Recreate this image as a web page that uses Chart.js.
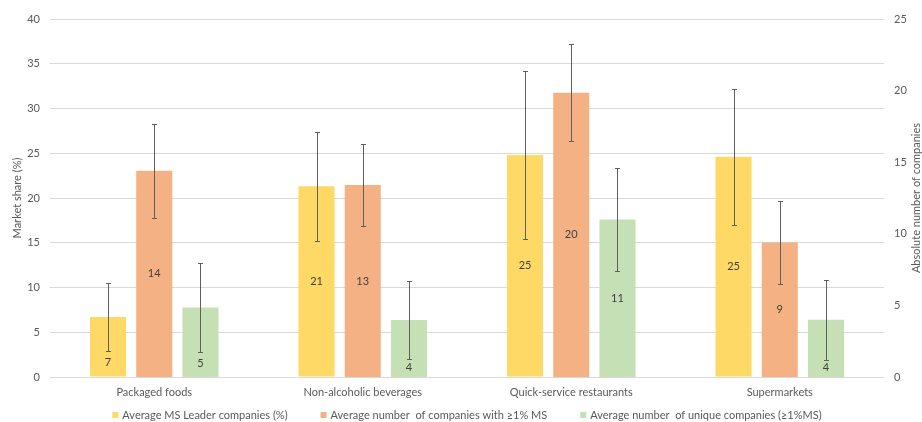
<!DOCTYPE html>
<html>
<head>
<meta charset="utf-8">
<script src="https://cdn.jsdelivr.net/npm/chart.js@4.4.1/dist/chart.umd.min.js"></script>
<style>
  html, body { margin: 0; padding: 0; background: #ffffff; }
  #wrap { width: 922px; height: 422px; }
</style>
</head>
<body>
<div id="wrap"><canvas id="c" width="922" height="422"></canvas></div>
<script>
// ---- data ----
const categories = ['Packaged foods', 'Non-alcoholic beverages', 'Quick-service restaurants', 'Supermarkets'];
const seriesNames = ['Average MS Leader companies (%)', 'Average number  of companies with \u22651% MS', 'Average number  of unique companies (\u22651%MS)'];
const leaderShare = [6.7, 21.3, 24.8, 24.6];        // left axis (%)
const leaderErr = [3.8, 6.1, 9.35, 7.6];
const companiesMS = [14.4, 13.4, 19.85, 9.4];        // right axis (count)
const companiesErr = [3.3, 2.86, 3.4, 2.9];
const uniqueCompanies = [4.86, 3.98, 11.0, 4.0];     // right axis (count)
const uniqueErr = [3.1, 2.72, 3.6, 2.78];
const leftTicks = [0, 5, 10, 15, 20, 25, 30, 35, 40];
const rightTicks = [0, 5, 10, 15, 20, 25];
const leftTitle = 'Market share (%)';
const rightTitle = 'Absolute number of companies';

const FONT = 'Lato, "Open Sans", sans-serif';
const TXT = '#595959';
const colors = ['#FFD966', '#F4B183', '#C5E0B4'];

const errorBars = {
  id: 'errorBars',
  afterDatasetsDraw(chart) {
    const ctx = chart.ctx;
    ctx.save();
    ctx.strokeStyle = '#5f5f5f';
    ctx.lineWidth = 1;
    chart.data.datasets.forEach((ds, di) => {
      const meta = chart.getDatasetMeta(di);
      const ys = chart.scales[ds.yAxisID];
      meta.data.forEach((bar, i) => {
        const v = ds.data[i], e = ds.errors[i];
        const x = Math.round(bar.x) + 0.5;
        const yt = Math.round(ys.getPixelForValue(v + e)) + 0.5;
        const yb = Math.round(ys.getPixelForValue(Math.max(0, v - e))) + 0.5;
        ctx.beginPath();
        ctx.moveTo(x, yt); ctx.lineTo(x, yb);
        ctx.moveTo(x - 2.5, yt); ctx.lineTo(x + 2.5, yt);
        ctx.moveTo(x - 2.5, yb); ctx.lineTo(x + 2.5, yb);
        ctx.stroke();
      });
    });
    ctx.restore();
  }
};

const dataLabels = {
  id: 'dataLabels',
  afterDatasetsDraw(chart) {
    const ctx = chart.ctx;
    ctx.save();
    ctx.font = '11px ' + FONT;
    ctx.fillStyle = '#404040';
    ctx.textAlign = 'center';
    ctx.textBaseline = 'middle';
    chart.data.datasets.forEach((ds, di) => {
      const meta = chart.getDatasetMeta(di);
      const ys = chart.scales[ds.yAxisID];
      meta.data.forEach((bar, i) => {
        const v = ds.data[i], e = ds.errors[i];
        const mid = (bar.y + bar.base) / 2;
        const errLow = ys.getPixelForValue(Math.max(0, v - e));
        let y = mid;
        if (errLow > mid - 6) y = (errLow + bar.base) / 2 - 1;
        ctx.fillText(String(Math.round(v)), bar.x, y);
      });
    });
    ctx.restore();
  }
};

const extras = {
  id: 'extras',
  afterDraw(chart) {
    const ctx = chart.ctx;
    const area = chart.chartArea;
    ctx.save();
    // right axis title (reads bottom to top)
    ctx.font = '11px ' + FONT;
    ctx.fillStyle = TXT;
    ctx.textAlign = 'center';
    ctx.textBaseline = 'middle';
    ctx.translate(916, (area.top + area.bottom) / 2);
    ctx.rotate(-Math.PI / 2);
    ctx.fillText(rightTitle, 0, 0);
    ctx.restore();

    // legend
    ctx.save();
    ctx.font = '11px ' + FONT;
    ctx.textBaseline = 'middle';
    const box = 6, gap = 4, spacing = 33;
    const widths = chart.data.datasets.map(ds => box + gap + ctx.measureText(ds.label).width);
    const total = widths.reduce((a, b) => a + b, 0) + spacing * (widths.length - 1);
    let x = (area.left + area.right) / 2 - total / 2;
    const y = 415;
    chart.data.datasets.forEach((ds, di) => {
      ctx.fillStyle = ds.backgroundColor;
      ctx.fillRect(x, y - box / 2, box, box);
      ctx.fillStyle = TXT;
      ctx.textAlign = 'left';
      ctx.fillText(ds.label, x + box + gap, y);
      x += widths[di] + spacing;
    });
    ctx.restore();
  }
};

new Chart(document.getElementById('c'), {
  type: 'bar',
  data: {
    labels: categories,
    datasets: [
      { label: seriesNames[0], data: leaderShare, errors: leaderErr, yAxisID: 'yL', backgroundColor: colors[0] },
      { label: seriesNames[1], data: companiesMS, errors: companiesErr, yAxisID: 'yR', backgroundColor: colors[1] },
      { label: seriesNames[2], data: uniqueCompanies, errors: uniqueErr, yAxisID: 'yR', backgroundColor: colors[2] }
    ]
  },
  options: {
    responsive: false,
    animation: false,
    devicePixelRatio: 1,
    categoryPercentage: 0.665,
    barPercentage: 0.78,
    layout: { padding: { top: 19, left: 0, right: 0, bottom: 0 } },
    plugins: {
      legend: { display: false },
      tooltip: { enabled: false }
    },
    scales: {
      x: {
        grid: { display: false, drawTicks: false },
        border: { display: false },
        ticks: { color: TXT, font: { family: FONT, size: 11 }, padding: 9, maxRotation: 0 },
        afterFit(s) { s.height = 45; }
      },
      yL: {
        position: 'left',
        min: 0, max: 40,
        afterBuildTicks(s) { s.ticks = leftTicks.map(v => ({ value: v })); },
        grid: { color: '#d9d9d9', drawTicks: false },
        border: { display: false },
        ticks: { color: TXT, font: { family: FONT, size: 11 }, padding: 10 },
        title: { display: true, text: leftTitle, color: TXT, font: { family: FONT, size: 11 }, padding: { top: 11, bottom: 0 } },
        afterFit(s) { s.width = 50; }
      },
      yR: {
        position: 'right',
        min: 0, max: 25,
        afterBuildTicks(s) { s.ticks = rightTicks.map(v => ({ value: v })); },
        grid: { display: false, drawTicks: false },
        border: { display: false },
        ticks: { color: TXT, font: { family: FONT, size: 11 }, padding: 10 },
        afterFit(s) { s.width = 38; }
      }
    }
  },
  plugins: [errorBars, dataLabels, extras]
});
</script>
</body>
</html>
